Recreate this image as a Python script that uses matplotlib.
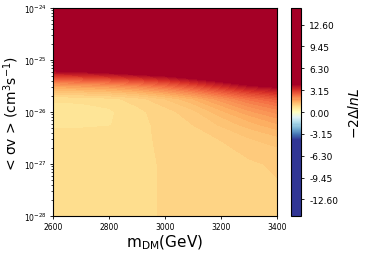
import numpy as np
import matplotlib
matplotlib.use("Agg")
import matplotlib.pyplot as plt
from matplotlib.colors import Normalize
from matplotlib.ticker import NullFormatter

# DM mass grid (GeV) and log10 of <sigma v> (cm^3 s^-1)
masses = [2600, 2700, 2800, 2900, 3000, 3100, 3200, 3300, 3400]
log_sigv = [-28.0, -27.5, -27.0, -26.5, -26.25, -26.0, -25.75, -25.5, -25.25, -25.0, -24.5, -24.0]

# -2 Delta lnL, one row per log_sigv entry
ts = [
    [0.85, 0.85, 0.85, 0.85, 0.92, 0.98, 1.00, 1.02, 1.04],
    [0.85, 0.85, 0.85, 0.85, 0.92, 0.98, 1.00, 1.02, 1.04],
    [0.85, 0.85, 0.85, 0.85, 0.92, 0.98, 1.00, 1.03, 1.07],
    [0.82, 0.82, 0.83, 0.85, 0.94, 1.00, 1.06, 1.20, 1.32],
    [0.71, 0.72, 0.74, 0.85, 0.95, 1.05, 1.22, 1.42, 1.62],
    [0.68, 0.69, 0.72, 0.86, 0.98, 1.15, 1.45, 1.75, 2.00],
    [0.78, 0.79, 0.85, 0.97, 1.20, 1.50, 1.90, 2.30, 2.60],
    [1.70, 1.80, 1.90, 2.10, 2.40, 2.80, 3.30, 3.80, 4.10],
    [3.60, 3.70, 3.90, 4.20, 4.50, 5.00, 5.50, 6.00, 6.50],
    [6.00, 6.30, 6.60, 7.00, 7.40, 7.80, 8.20, 8.60, 9.00],
    [14.0, 14.0, 14.0, 14.0, 14.0, 14.0, 14.0, 14.0, 14.0],
    [14.5, 14.5, 14.5, 14.5, 14.5, 14.5, 14.5, 14.5, 14.5],
]

cbar_ticks = [-12.60, -9.45, -6.30, -3.15, 0.00, 3.15, 6.30, 9.45, 12.60]

X, Y = np.meshgrid(masses, 10.0 ** np.array(log_sigv))
Z = np.array(ts)

fig = plt.figure(figsize=(3.74, 2.55), dpi=100)
ax = fig.add_axes([0.1417, 0.149, 0.599, 0.8157])
cax = fig.add_axes([0.778, 0.149, 0.0267, 0.8157])

levels = np.linspace(-15, 15, 201)
cs = ax.contourf(X, Y, Z, levels=levels, cmap="RdYlBu_r", norm=Normalize(-4, 4))
ax.set_yscale("log")
ax.set_xlim(2600, 3400)
ax.set_ylim(1e-28, 1e-24)
ax.set_xticks([2600, 2800, 3000, 3200, 3400])
ax.yaxis.set_minor_formatter(NullFormatter())
ax.tick_params(labelsize=5.5, length=2.5, width=0.6, pad=2)
ax.tick_params(which="minor", length=1.5, width=0.5)
ax.set_xlabel(r"m$_{\rm DM}$(GeV)", fontsize=11, labelpad=1)
ax.set_ylabel(r"< σv > (cm$^3$s$^{-1}$)", fontsize=10, labelpad=2)

cb = fig.colorbar(cs, cax=cax, ticks=cbar_ticks)
cb.ax.set_yticklabels(["%.2f" % t for t in cbar_ticks])
cb.ax.tick_params(labelsize=6.5, length=2.5, width=0.6)
cb.set_label(r"$-2\Delta lnL$", fontsize=10, labelpad=6)

fig.savefig("out.png", dpi=100)
